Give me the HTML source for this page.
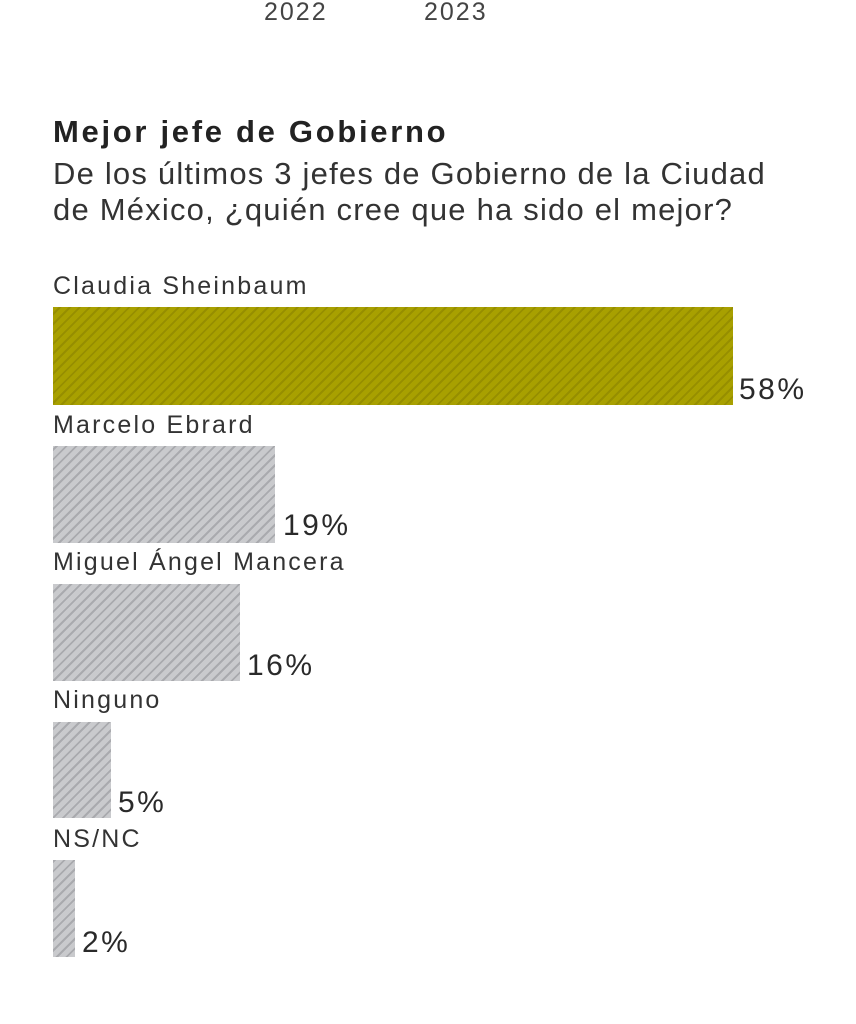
<!DOCTYPE html>
<html><head><meta charset="utf-8"><style>
html,body{margin:0;padding:0;background:#fff;}
body{width:856px;height:1024px;position:relative;overflow:hidden;font-family:"Liberation Sans",sans-serif;color:#2a2a2a;}
.t{position:absolute;white-space:nowrap;}
.bar{position:absolute;left:53px;}
.o{background:repeating-linear-gradient(-45deg,#a8a000 0 5px,#968e00 5px 7px);}
.g{background:repeating-linear-gradient(-45deg,#c9cacd 0 5px,#a9aaae 5px 7px);}
.lab{font-size:25px;letter-spacing:2.2px;color:#333;}
.pct{font-size:30px;letter-spacing:2.5px;color:#2a2a2a;}
</style></head><body>
<div class="t" style="left:264px;top:-2px;font-size:25px;letter-spacing:2px;color:#444;">2022</div>
<div class="t" style="left:424px;top:-2px;font-size:25px;letter-spacing:2px;color:#444;">2023</div>
<div class="t" style="left:53px;top:114px;font-size:31px;font-weight:bold;letter-spacing:2.7px;color:#222;">Mejor jefe de Gobierno</div>
<div class="t" style="left:53px;top:156px;font-size:31px;letter-spacing:1.2px;color:#333;">De los últimos 3 jefes de Gobierno de la Ciudad</div>
<div class="t" style="left:53px;top:192px;font-size:31px;letter-spacing:1.2px;color:#333;">de México, ¿quién cree que ha sido el mejor?</div>

<div class="t lab" style="left:53px;top:272px;">Claudia Sheinbaum</div>
<div class="bar o" style="top:307px;width:680px;height:98px;"></div>
<div class="t pct" style="left:739px;top:373px;">58%</div>

<div class="t lab" style="left:53px;top:411px;">Marcelo Ebrard</div>
<div class="bar g" style="top:446px;width:222px;height:97px;"></div>
<div class="t pct" style="left:283px;top:509px;">19%</div>

<div class="t lab" style="left:53px;top:548px;">Miguel Ángel Mancera</div>
<div class="bar g" style="top:584px;width:187px;height:97px;"></div>
<div class="t pct" style="left:247px;top:649px;">16%</div>

<div class="t lab" style="left:53px;top:686px;">Ninguno</div>
<div class="bar g" style="top:722px;width:58px;height:96px;"></div>
<div class="t pct" style="left:118px;top:786px;">5%</div>

<div class="t lab" style="left:53px;top:825px;">NS/NC</div>
<div class="bar g" style="top:860px;width:22px;height:97px;"></div>
<div class="t pct" style="left:82px;top:926px;">2%</div>
</body></html>
